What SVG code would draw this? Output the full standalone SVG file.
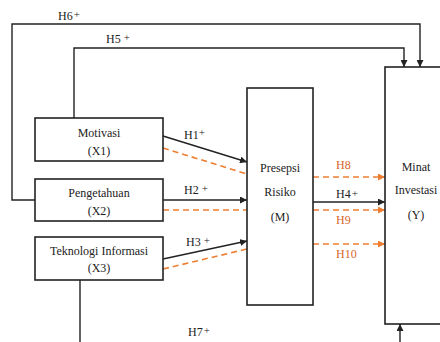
<svg xmlns="http://www.w3.org/2000/svg" width="440" height="342" viewBox="0 0 440 342" font-family="'Liberation Serif', 'DejaVu Serif', serif">
<style>
.box{fill:#fff;stroke:#222;stroke-width:1.6}
.ln{fill:none;stroke:#222;stroke-width:1.4}
.dash{fill:none;stroke:#ED7D31;stroke-width:1.6;stroke-dasharray:6,4}
text{font-family:'Liberation Serif','DejaVu Serif',serif;font-size:12px;fill:#222}
.c{text-anchor:middle}
.o{fill:#D8651F}
.p{font-size:11px}
</style>
<defs>
<marker id="ab" viewBox="0 0 8 8" refX="8" refY="4" markerWidth="7" markerHeight="7" markerUnits="userSpaceOnUse" orient="auto"><path d="M0,0L8,4L0,8z" fill="#222"/></marker>
<marker id="ao" viewBox="0 0 8 8" refX="8" refY="4" markerWidth="7" markerHeight="7" markerUnits="userSpaceOnUse" orient="auto"><path d="M0,0L8,4L0,8z" fill="#ED7D31"/></marker>
</defs>
<g id="connectors">
<polyline class="ln" points="35,200 12,200 12,24 420,24 420,67" marker-end="url(#ab)"/>
<polyline class="ln" points="74,118 74,48 404,48 404,67" marker-end="url(#ab)"/>
<line class="ln" x1="163" y1="136" x2="247" y2="162" marker-end="url(#ab)"/>
<line class="dash" x1="163" y1="148" x2="247" y2="174"/>
<line class="ln" x1="163" y1="200" x2="247" y2="200" marker-end="url(#ab)"/>
<line class="dash" x1="163" y1="210" x2="247" y2="210"/>
<line class="ln" x1="163" y1="259" x2="247" y2="241" marker-end="url(#ab)"/>
<line class="dash" x1="163" y1="269" x2="247" y2="249"/>
<line class="dash" x1="313" y1="177" x2="385" y2="177" marker-end="url(#ao)"/>
<line class="ln" x1="313" y1="202" x2="385" y2="202" marker-end="url(#ab)"/>
<line class="dash" x1="313" y1="210" x2="385" y2="210" marker-end="url(#ao)"/>
<line class="dash" x1="313" y1="244" x2="385" y2="244" marker-end="url(#ao)"/>
<line class="ln" x1="80" y1="280" x2="80" y2="345"/>
<line class="ln" x1="400" y1="345" x2="400" y2="324" marker-end="url(#ab)"/>
<text x="58" y="20">H6<tspan class="p" dx="1" dy="-2">+</tspan></text>
<text x="106" y="43">H5 <tspan class="p" dy="-2">+</tspan></text>
<text x="184" y="139">H1<tspan class="p" dy="-3">+</tspan></text>
<text x="184" y="194">H2 <tspan class="p" dy="-2">+</tspan></text>
<text x="186" y="246">H3 <tspan class="p" dy="-2">+</tspan></text>
<text x="336" y="169" class="o">H8</text>
<text x="336" y="198">H4<tspan class="p" dx="1" dy="-1">+</tspan></text>
<text x="336" y="224" class="o">H9</text>
<text x="336" y="258" class="o">H10</text>
<text x="188" y="336">H7<tspan class="p" dx="1" dy="-2">+</tspan></text>
</g>
<g id="X1"><rect class="box" x="35" y="118" width="128" height="43"/><text class="c" x="99" y="137">Motivasi</text><text class="c" x="99" y="155">(X1)</text></g>
<g id="X2"><rect class="box" x="35" y="179" width="128" height="42"/><text class="c" x="99" y="197">Pengetahuan</text><text class="c" x="99" y="215">(X2)</text></g>
<g id="X3"><rect class="box" x="35" y="237" width="128" height="43"/><text class="c" x="99" y="255">Teknologi Informasi</text><text class="c" x="99" y="272">(X3)</text></g>
<g id="M"><rect class="box" x="247" y="88" width="66" height="217"/><text class="c" x="280" y="172">Presepsi</text><text class="c" x="280" y="196">Risiko</text><text class="c" x="280" y="221">(M)</text></g>
<g id="Y"><rect class="box" x="385" y="67" width="70" height="257"/><text class="c" x="416" y="171">Minat</text><text class="c" x="416" y="194">Investasi</text><text class="c" x="416" y="219">(Y)</text></g>
</svg>
